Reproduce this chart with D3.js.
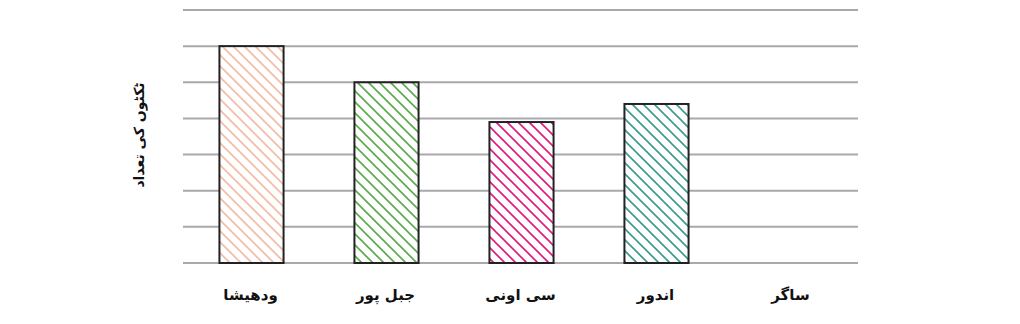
<!DOCTYPE html>
<html>
<head>
<meta charset="utf-8">
<script src="https://cdn.jsdelivr.net/npm/d3@7"></script>
<style>
  body { margin: 0; background: #fff; }
  text { font-family: "DejaVu Sans", sans-serif; }
</style>
</head>
<body>
<div id="chart"></div>
<script>
const cities = ["ودھیشا", "جبل پور", "سی اونی", "اندور", "ساگر"];
const counts = [6, 5, 3.9, 4.4, 0];
const barColors = ["#f4bba6", "#5aab4c", "#e2187f", "#3b9b8b", "#888"];
const yTicks = [0, 1, 2, 3, 4, 5, 6, 7];
const yTitle = "ٹکٹوں کی تعداد";

const width = 1020, height = 324;
const margin = { top: 10, right: 162, bottom: 61, left: 183 };

const svg = d3.select("#chart")
  .append("svg")
  .attr("width", width)
  .attr("height", height);

const x = d3.scaleBand()
  .domain(cities)
  .range([margin.left, width - margin.right])
  .paddingInner(0.525)
  .paddingOuter(0.2625);

const y = d3.scaleLinear()
  .domain([0, 7])
  .range([height - margin.bottom, margin.top]);

// hatch patterns (white background so gridlines stay hidden)
const defs = svg.append("defs");
barColors.forEach((c, i) => {
  const p = defs.append("pattern")
    .attr("id", "hatch" + i)
    .attr("patternUnits", "userSpaceOnUse")
    .attr("width", 11)
    .attr("height", 11);
  p.append("rect")
    .attr("width", 11)
    .attr("height", 11)
    .attr("fill", "#fff");
  p.append("path")
    .attr("d", "M-1,-1 L12,12 M-6.5,4.5 L6.5,17.5 M4.5,-6.5 L17.5,6.5")
    .attr("stroke", c)
    .attr("stroke-width", 1.6);
});

// gridlines
svg.append("g")
  .selectAll("line")
  .data(yTicks)
  .join("line")
  .attr("x1", margin.left)
  .attr("x2", width - margin.right)
  .attr("y1", d => y(d))
  .attr("y2", d => y(d))
  .attr("stroke", "#a9a9ad")
  .attr("stroke-width", 2);

// bars
svg.append("g")
  .selectAll("rect")
  .data(cities.map((c, i) => ({ city: c, value: counts[i], i })).filter(d => d.value > 0))
  .join("rect")
  .attr("x", d => x(d.city) + 1)
  .attr("y", d => y(d.value))
  .attr("width", x.bandwidth())
  .attr("height", d => y(0) - y(d.value))
  .attr("fill", d => `url(#hatch${d.i})`)
  .attr("stroke", "#222")
  .attr("stroke-width", 2);

// x labels
const xAxis = svg.append("g")
  .attr("transform", `translate(0,${height - margin.bottom})`)
  .call(d3.axisBottom(x).tickSize(0).tickPadding(26));
xAxis.select(".domain").remove();
xAxis.selectAll("text")
  .attr("font-family", "DejaVu Sans")
  .attr("font-size", 15)
  .attr("font-weight", "bold")
  .attr("fill", "#111");

// y title
svg.append("text")
  .attr("transform", `translate(140,${135}) rotate(-90)`)
  .attr("text-anchor", "middle")
  .attr("dominant-baseline", "middle")
  .attr("font-size", 14)
  .attr("font-weight", "bold")
  .attr("fill", "#111")
  .text(yTitle);
</script>
</body>
</html>
